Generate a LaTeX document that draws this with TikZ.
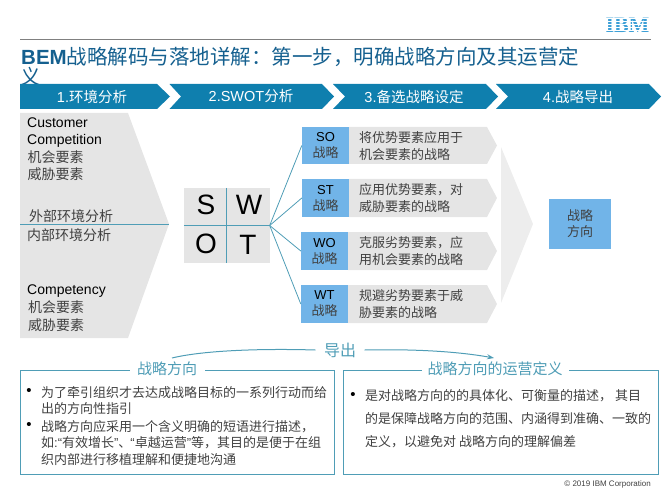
\documentclass[tikz,border=0pt]{standalone}
\usepackage{fontspec}
\setmainfont{Noto Sans CJK SC}
\newfontfamily\lat{Liberation Sans}
\newfontfamily\logofont{Liberation Serif}
\usetikzlibrary{arrows.meta}
\definecolor{stepblue}{HTML}{0F7FAE}
\definecolor{titleblue}{HTML}{15608F}
\definecolor{boxteal}{HTML}{4F9DB6}
\definecolor{paleblue}{HTML}{71B4E8}
\definecolor{logoblue}{HTML}{3C9FD6}
\definecolor{panelgray}{HTML}{E5E5E5}
\definecolor{textgray}{HTML}{404040}
\tikzset{
% Two text styles: body lines and the labels on the step bar
body text/.style={inner sep=0,anchor=west,align=left,text=textgray,font=\fontsize{13}{17}\selectfont},
step label/.style={inner sep=0,text=white,font=\fontsize{14.5}{16}\selectfont},
% Blue square boxes of the strategy column
strategy box/.style={fill=paleblue,minimum width=47,minimum height=37.5,inner sep=0,align=center,text=textgray,font=\fontsize{13}{16}\selectfont},
link line/.style={draw=boxteal,line width=.8pt},
frame label/.style={fill=white,inner ysep=1,text=boxteal,font=\fontsize{15}{17}\selectfont},
swot letter/.style={inner sep=0,text=black,font=\lat\fontsize{28}{28}\selectfont},
list dot/.style={inner sep=0,text=black,font=\lat\fontsize{15}{15}\selectfont}
}
\begin{document}
\begin{tikzpicture}[x=1pt,y=-1pt]
\useasboundingbox (0,0) rectangle (667,500);
% Header
\node(logo)[inner sep=0,text=logoblue,font=\logofont\bfseries\fontsize{22}{22}\selectfont] at (627.5,25.5){IBM};
\draw[white,line width=.6pt] (604,18.5)--(651,18.5) (604,21.5)--(651,21.5) (604,24.5)--(651,24.5) (604,27.5)--(651,27.5) (604,30.5)--(651,30.5);
\draw[gray,line width=1.2pt] (20,39.5)--(651,39.5);
\node(title)[inner sep=0,anchor=west,text=titleblue,font=\fontsize{20.5}{21}\selectfont] at (21,57){{\lat\bfseries BEM}战略解码与落地详解：第一步，明确战略方向及其运营定};
\node(titlerest)[inner sep=0,text=titleblue,font=\fontsize{20.5}{21}\selectfont] at (31,77){义};
% Step bar
\fill[stepblue] (20,84)--(157,84)--(170,96.5)--(157,109)--(20,109)--cycle;
\fill[stepblue] (169.5,84)--(322,84)--(334,96.5)--(322,109)--(169.5,109)--(181,96.5)--cycle;
\fill[stepblue] (333,84)--(486,84)--(498,96.5)--(486,109)--(333,109)--(345,96.5)--cycle;
\fill[stepblue] (496,84)--(649,84)--(661,96.5)--(649,109)--(496,109)--(508,96.5)--cycle;
\node(step1)[step label] at (92,96.5){{\lat 1.}环境分析};
\node(step2)[step label] at (251,96.5){{\lat 2.SWOT}分析};
\node(step3)[step label] at (414,96.5){{\lat 3.}备选战略设定};
\node(step4)[step label] at (578,96.5){{\lat 4.}战略导出};
% Environment panel
\fill[panelgray] (20,113)--(128,113)--(169,224)--(128,338)--(20,338)--cycle;
\coordinate (paneltail) at (20,224);
\coordinate (paneltip) at (169,224);
\draw[link line,line width=1pt] (paneltail)--(paneltip);
\node(customer)[body text,text=black,font=\lat\fontsize{14}{17}\selectfont] at (27,133){Customer\\Competition};
\node(outer1)[body text,font=\fontsize{14}{17.5}\selectfont] at (27.5,165.5){机会要素\\威胁要素};
\node(outer)[body text,font=\fontsize{14}{17}\selectfont] at (29,216){外部环境分析};
\node(inner)[body text,font=\fontsize{14}{17}\selectfont] at (27,235){内部环境分析};
\node(comp)[body text,text=black,font=\lat\fontsize{14}{17}\selectfont] at (27,291){Competency};
\node(inner1)[body text,font=\fontsize{14}{17.5}\selectfont] at (28,316){机会要素\\威胁要素};
% SWOT square
\node(swot)[fill=panelgray,minimum width=85.5,minimum height=75,inner sep=0] at (226.75,225.5){};
\draw[link line] (swot.west)--(swot.east) (swot.north)--(swot.south);
\node(s)[swot letter] at (206,205){S};
\node(w)[swot letter] at (249,205){W};
\node(o)[swot letter] at (206,244){O};
\node(t)[swot letter] at (248,245){T};
% Four strategies
\fill[panelgray] (349,127)--(487,127)--(497,145.5)--(487,164)--(349,164)--cycle;
\fill[panelgray] (349,179)--(487,179)--(497,198)--(487,217)--(349,217)--cycle;
\fill[panelgray] (348,232)--(487,232)--(497,251)--(487,270)--(348,270)--cycle;
\fill[panelgray] (348,285)--(487,285)--(497,304)--(487,323)--(348,323)--cycle;
\node(so)[strategy box] at (325.5,145.5){{\lat\color{black}SO}\\战略};
\node(st)[strategy box] at (325.5,198){{\lat\color{black}ST}\\战略};
\node(wo)[strategy box] at (324.5,251){{\lat\color{black}WO}\\战略};
\node(wt)[strategy box] at (324.5,304){{\lat\color{black}WT}\\战略};
\draw[link line] (swot.east)--(so.west);
\draw[link line] (swot.east)--(st.west);
\draw[link line] (swot.east)--(wo.west);
\draw[link line] (swot.east)--(wt.west);
\node(sotext)[body text] at (359,146){将优势要素应用于\\机会要素的战略};
\node(sttext)[body text] at (359,198.5){应用优势要素，对\\威胁要素的战略};
\node(wotext)[body text] at (359,251.5){克服劣势要素，应\\用机会要素的战略};
\node(wttext)[body text] at (359,304.5){规避劣势要素于威\\胁要素的战略};
% Result
\fill[panelgray!70!white] (501,147)--(533,224)--(501,303)--cycle;
\node(result)[strategy box,minimum width=62,minimum height=50] at (580,224){战略\\方向};
% Output link
\node(daochu)[inner ysep=0,inner xsep=8.5,text=boxteal,font=\fontsize{16}{16}\selectfont] at (340,350){导出};
\coordinate (linkstart) at (172,358);
\coordinate (linkend) at (494,358);
\draw[boxteal,line width=1pt] (linkstart) .. controls (205,350) and (265,348.5) .. (daochu.west);
\draw[boxteal,line width=1pt,-{Stealth[length=7pt,width=5pt]}] (daochu.east) .. controls (410,349) and (455,351) .. (linkend);
% Two frames
\draw[boxteal,line width=.8pt] (20,370) rectangle (334.5,474);
\draw[boxteal,line width=.8pt] (343,370) rectangle (658,474);
\node(leftlabel)[frame label,inner xsep=7.5] at (167,369){战略方向};
\node(rightlabel)[frame label,inner xsep=6] at (495,369){战略方向的运营定义};
\node(bullet1)[list dot] at (29,392){•};
\node(bullet2)[list dot] at (29,426){•};
\node(bullet3)[list dot] at (353,396){•};
\node(lefttext1)[body text,font=\fontsize{13}{16.8}\selectfont] at (41,400.5){为了牵引组织才去达成战略目标的一系列行动而给\\出的方向性指引};
\node(lefttext2)[body text,font=\fontsize{13}{16.8}\selectfont] at (41,443){战略方向应采用一个含义明确的短语进行描述，\\如{\lat :“}有效增长{\lat ”}、{\kern-1pt}{\lat “}卓越运营{\lat ”}等，其目的是便于在组\\织内部进行移植理解和便捷地沟通};
\node(righttext)[body text,font=\fontsize{13}{23}\selectfont] at (365,419){是对战略方向的的具体化、可衡量的描述， 其目\\的是保障战略方向的范围、内涵得到准确、一致的\\定义，以避免对 战略方向的理解偏差};
\node(copy)[inner sep=0,anchor=east,text=textgray,font=\lat\fontsize{8}{8}\selectfont] at (651,484){© 2019 IBM Corporation};
\end{tikzpicture}
\end{document}
